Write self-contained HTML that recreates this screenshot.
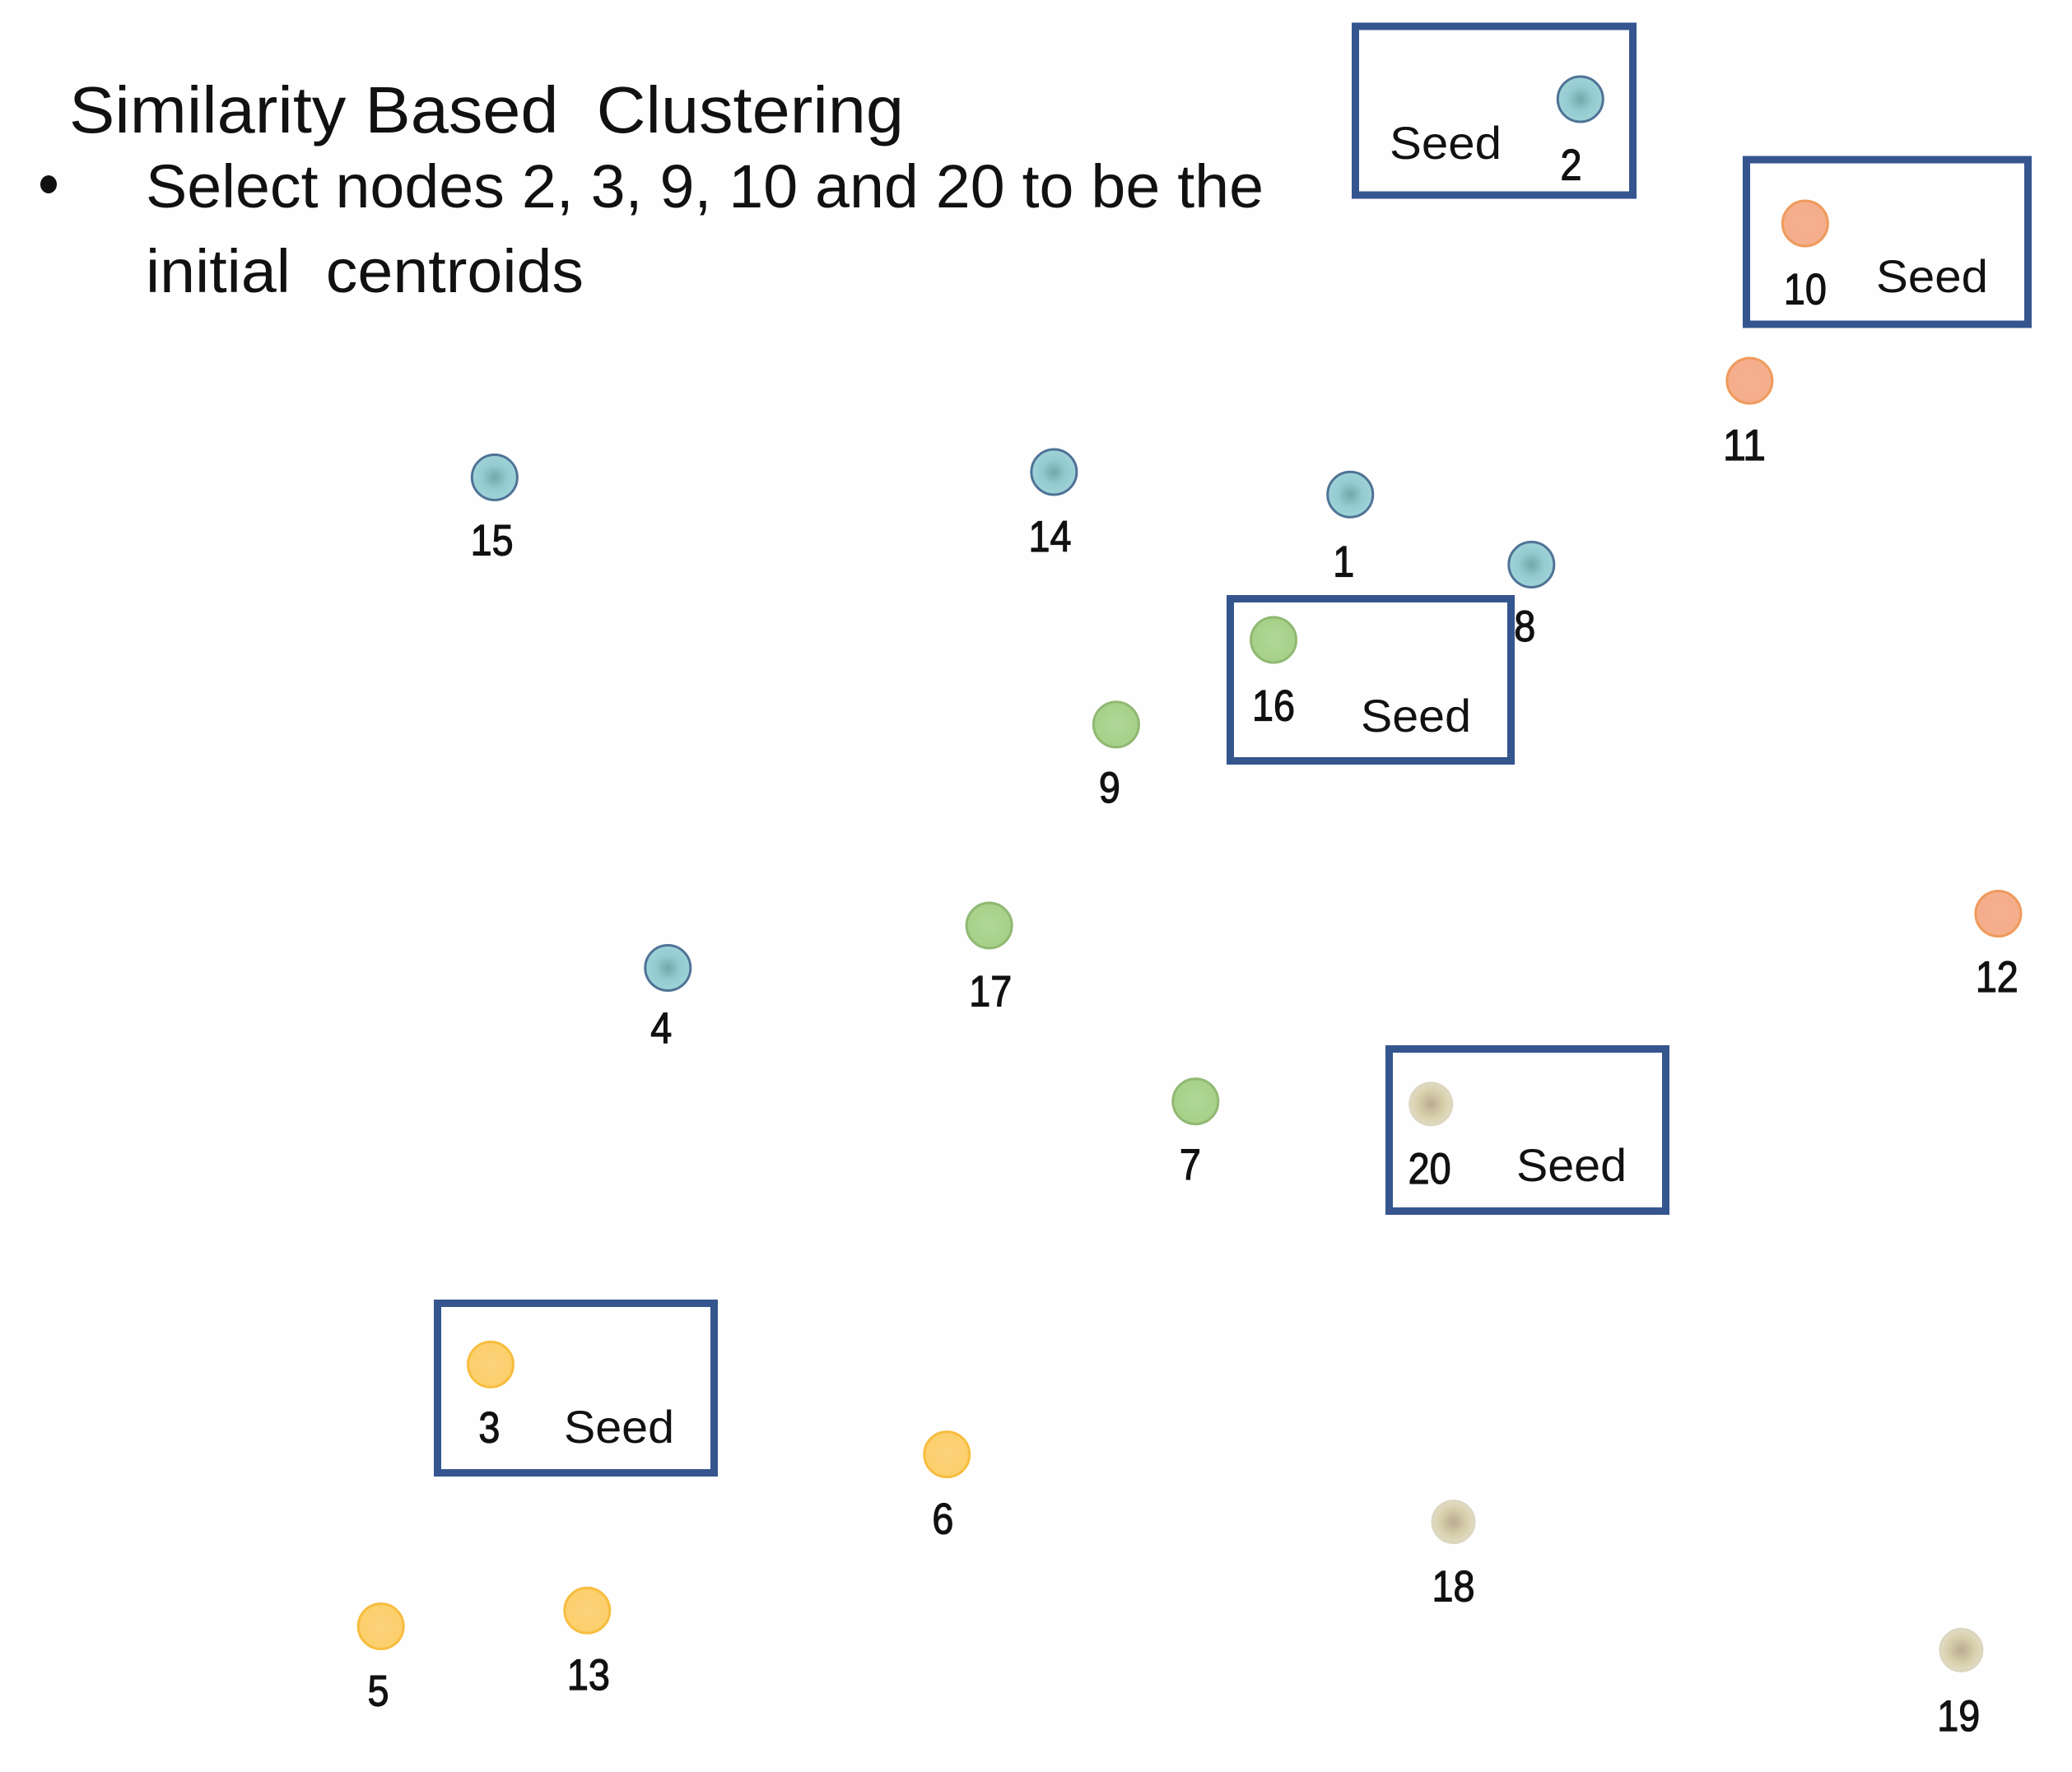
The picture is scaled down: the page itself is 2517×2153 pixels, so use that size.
<!DOCTYPE html>
<html lang="en">
<head>
<meta charset="utf-8">
<title>Similarity Based Clustering</title>
<style>
html,body{margin:0;padding:0;background:#fefefe;}
svg{display:block;font-family:"Liberation Sans",sans-serif;}
text{fill:#111;}
</style>
</head>
<body>
<svg id="chart" xmlns="http://www.w3.org/2000/svg" width="2517" height="2153" viewBox="0 0 2517 2153">
  <defs>
    <radialGradient id="grad-blue"><stop offset="0" stop-color="#72a8aa"/><stop offset="0.55" stop-color="#93cbd0"/><stop offset="1" stop-color="#9fd3d8"/></radialGradient>
    <radialGradient id="grad-green"><stop offset="0" stop-color="#b0d798"/><stop offset="1" stop-color="#a6d088"/></radialGradient>
    <radialGradient id="grad-orange"><stop offset="0" stop-color="#f5b192"/><stop offset="1" stop-color="#f4ad8b"/></radialGradient>
    <radialGradient id="grad-yellow"><stop offset="0" stop-color="#fbd27c"/><stop offset="1" stop-color="#fccf6b"/></radialGradient>
    <radialGradient id="grad-tan"><stop offset="0" stop-color="#b8ab92"/><stop offset="0.6" stop-color="#d6cda9"/><stop offset="1" stop-color="#e2dcc2"/></radialGradient>
  </defs>
  <rect width="2517" height="2153" fill="#fefefe"/>

  <text x="84" y="161" font-size="80" textLength="1014" lengthAdjust="spacingAndGlyphs" xml:space="preserve">Similarity Based  Clustering</text>
  <ellipse cx="59" cy="224" rx="10" ry="11" fill="#111"/>
  <text x="177" y="252" font-size="74" textLength="1358" lengthAdjust="spacingAndGlyphs">Select nodes 2, 3, 9, 10 and 20 to be the</text>
  <text x="177" y="355" font-size="74" textLength="532" lengthAdjust="spacingAndGlyphs" xml:space="preserve">initial  centroids</text>

  <g>
    <rect x="1646.5" y="32" width="337" height="205" fill="none" stroke="#35558f" stroke-width="9"/>
    <text x="1688" y="193" font-size="56" textLength="136" lengthAdjust="spacingAndGlyphs">Seed</text>
  </g>
  <g>
    <rect x="2121.5" y="194" width="342" height="200" fill="none" stroke="#35558f" stroke-width="9"/>
    <text x="2279" y="355" font-size="56" textLength="136" lengthAdjust="spacingAndGlyphs">Seed</text>
  </g>
  <g>
    <rect x="1494.5" y="727.5" width="341" height="197" fill="none" stroke="#35558f" stroke-width="9"/>
    <text x="1653" y="889" font-size="56" textLength="134" lengthAdjust="spacingAndGlyphs">Seed</text>
  </g>
  <g>
    <rect x="1687.5" y="1274.5" width="336" height="197" fill="none" stroke="#35558f" stroke-width="9"/>
    <text x="1842" y="1435" font-size="56" textLength="134" lengthAdjust="spacingAndGlyphs">Seed</text>
  </g>
  <g>
    <rect x="531.5" y="1583.5" width="336" height="206" fill="none" stroke="#35558f" stroke-width="9"/>
    <text x="685" y="1753" font-size="56" textLength="134" lengthAdjust="spacingAndGlyphs">Seed</text>
  </g>

  <g id="nodes"></g>
</svg>
<script>
var nodeIds = [1,2,3,4,5,6,7,8,9,10,11,12,13,14,15,16,17,18,19,20];
var nodeX = [1021,1195,371,505,288,716,904,1158,844,1365,1323,1511,444,797,374,963,748,1099,1483,1082];
var nodeY = [374,75,1032,732,1230,1100,833,427,548,169,288,691,1218,357,361,484,700,1151,1248,835];
var nodeCluster = ["blue","blue","yellow","blue","yellow","yellow","green","blue","green","orange","orange","orange","yellow","blue","blue","green","green","tan","tan","tan"];
var labelNudgeX = [-5,-7,-1,-5,-2,-3,-4,-5,-5,0,-4,-1,1,-3,-2,0,1,0,-2,-1];
var labelNudgeY = [2,1,-1,-3,0,0,-1,-2,-1,1,0,-1,0,0,-1,1,1,0,1,0];

var SCALE = 1.6065;
function xAxis(v){ return v * SCALE; }
function yAxis(v){ return v * SCALE; }

var STROKES = {blue:"#4f7395", green:"#90b872", orange:"#ef9a5c", yellow:"#f7bd3f", tan:"#dcd6c0"};
var NS = "http://www.w3.org/2000/svg";
var layer = document.getElementById("nodes");

nodeIds.forEach(function(id, i){
  var cx = xAxis(nodeX[i]);
  var cy = yAxis(nodeY[i]);
  var cluster = nodeCluster[i];

  var g = document.createElementNS(NS, "g");
  
  

  var c = document.createElementNS(NS, "circle");
  
  
  c.setAttribute("cx", cx);
  c.setAttribute("cy", cy);
  c.setAttribute("r", cluster === "tan" ? 25.5 : 27.5);
  c.setAttribute("fill", "url(#grad-" + cluster + ")");
  c.setAttribute("stroke", STROKES[cluster]);
  c.setAttribute("stroke-width", 3);
  g.appendChild(c);

  var t = document.createElementNS(NS, "text");
  
  
  t.setAttribute("x", xAxis(nodeX[i] + labelNudgeX[i]));
  t.setAttribute("y", yAxis(nodeY[i] + 60 + labelNudgeY[i]));
  t.setAttribute("font-size", 53);
  t.setAttribute("text-anchor", "middle");
  t.setAttribute("stroke", "#111");
  t.setAttribute("stroke-width", 1.2);
  var label = String(id);
  t.setAttribute("textLength", label.length * 26);
  t.setAttribute("lengthAdjust", "spacingAndGlyphs");
  t.textContent = label;
  g.appendChild(t);

  layer.appendChild(g);
});
</script>
</body>
</html>
